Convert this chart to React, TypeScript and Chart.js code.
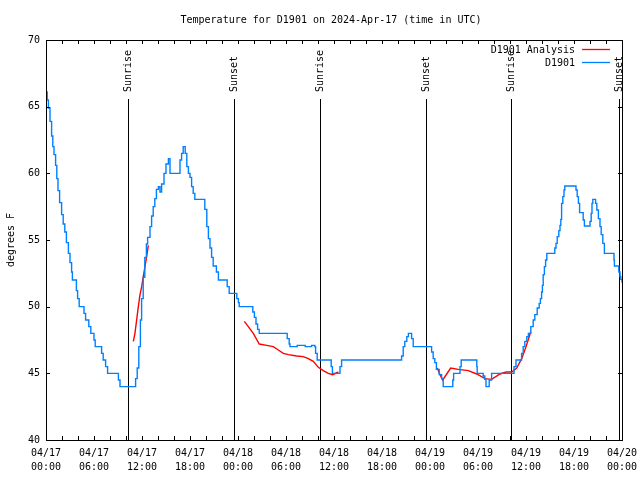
import React, { useEffect, useRef } from 'react';
import { Chart, registerables } from 'chart.js';

Chart.register(...registerables);

const TITLE = 'Temperature for D1901 on 2024-Apr-17 (time in UTC)';
const Y_LABEL = 'degrees F';
const OBS_LABEL = 'D1901';
const ANA_LABEL = 'D1901 Analysis';

const X_TICK_HOURS = [0, 6, 12, 18, 24, 30, 36, 42, 48, 54, 60, 66, 72];
const X_TICK_DATES = ['04/17', '04/17', '04/17', '04/17', '04/18', '04/18', '04/18', '04/18', '04/19', '04/19', '04/19', '04/19', '04/20'];
const X_TICK_TIMES = ['00:00', '06:00', '12:00', '18:00', '00:00', '06:00', '12:00', '18:00', '00:00', '06:00', '12:00', '18:00', '00:00'];
const X_MINOR_STEP = 2;
const Y_TICKS = [40, 45, 50, 55, 60, 65, 70];

const EVENT_HOURS = [10.29, 23.54, 34.29, 47.54, 58.17, 71.62];
const EVENT_NAMES = ['Sunrise', 'Sunset', 'Sunrise', 'Sunset', 'Sunrise', 'Sunset'];

// Observations (hours since 04/17 00:00 UTC, degrees F); each value holds until the next point
const OBS_HOURS = [
  0.0, 0.15, 0.3, 0.5, 0.7, 0.85, 1.0, 1.2, 1.35, 1.5, 1.7, 1.95, 2.15, 2.35, 2.55, 2.8, 3.0, 3.2, 3.3, 3.8,
  3.95, 4.15, 4.75, 4.95, 5.35, 5.6, 6.0, 6.15, 6.95, 7.15, 7.45, 7.7, 9.05, 9.25,
  11.2, 11.4, 11.6, 11.8, 11.95, 12.15, 12.35, 12.55, 12.7, 13.0, 13.2, 13.4, 13.6, 13.8, 14.05, 14.25, 14.45,
  14.75, 15.0, 15.3, 15.5, 16.75, 16.95, 17.15, 17.4, 17.6, 17.8, 18.0, 18.2, 18.4, 18.6, 19.85, 20.1, 20.3,
  20.5, 20.7, 20.9, 21.3, 21.55, 22.65, 22.9, 23.85, 24.05, 24.15, 25.85, 26.05, 26.25, 26.45, 26.65, 30.15,
  30.4, 30.5, 31.4, 32.4, 33.2, 33.6, 33.7, 33.9, 35.65, 35.8, 36.75, 36.95, 44.45, 44.65, 44.85, 45.1, 45.3,
  45.7, 45.9, 48.2, 48.4, 48.6, 48.8, 49.15, 49.45, 49.65, 50.85, 50.95, 51.75, 51.9, 53.85, 53.9, 54.65,
  54.85, 55.0, 55.4, 55.7, 58.5, 58.75, 59.45, 59.65, 59.85, 60.1, 60.3, 60.6, 60.9, 61.1, 61.4, 61.65, 61.8,
  61.95, 62.05, 62.15, 62.3, 62.45, 62.6, 63.6, 63.75, 63.9, 64.1, 64.25, 64.35, 64.45, 64.6, 64.75, 64.85,
  66.25, 66.4, 66.55, 66.7, 67.15, 67.3, 68.0, 68.15, 68.25, 68.35, 68.7, 68.85, 69.05, 69.25, 69.4, 69.6,
  69.8, 71.0, 71.05, 71.6, 71.75, 71.85, 72.0,
];
const OBS_TEMPS = [
  66.1, 65.5, 64.9, 63.9, 62.8, 62.0, 61.4, 60.6, 59.6, 58.7, 57.8, 56.9, 56.2, 55.6, 54.8, 54.0, 53.3, 52.6, 52.0, 51.2,
  50.6, 50.0, 49.5, 49.0, 48.5, 48.0, 47.5, 47.0, 46.5, 46.0, 45.5, 45.0, 44.5, 44.0,
  44.6, 45.4, 47.0, 49.0, 50.6, 52.2, 53.7, 54.7, 55.2, 56.0, 56.8, 57.5, 58.1, 58.8, 59.0, 58.6, 59.2,
  60.0, 60.7, 61.1, 60.0, 61.0, 61.5, 62.0, 61.5, 60.5, 60.0, 59.7, 59.0, 58.5, 58.05, 57.3, 56.0, 55.1,
  54.4, 53.7, 53.05, 52.6, 52.0, 51.5, 51.0, 50.6, 50.3, 50.0, 49.6, 49.2, 48.7, 48.3, 48.0, 47.6,
  47.2, 47.0, 47.1, 47.0, 47.1, 47.0, 46.5, 46.0, 45.5, 45.0, 45.5, 46.0, 46.3, 47.0, 47.4, 47.75, 48.0,
  47.6, 47.0, 46.6, 46.1, 45.8, 45.3, 44.9, 44.6, 44.0, 44.5, 45.0, 45.5, 46.0, 45.5, 45.0, 44.8,
  44.55, 44.0, 44.5, 45.0, 45.5, 46.0, 46.5, 47.0, 47.4, 47.75, 48.0, 48.5, 49.0, 49.4, 49.9, 50.25, 50.6,
  51.1, 51.6, 52.4, 53.0, 53.5, 54.0, 54.4, 54.75, 55.25, 55.7, 56.1, 56.55, 57.75, 58.25, 58.75, 59.05,
  58.75, 58.25, 57.75, 57.05, 56.5, 56.05, 56.4, 57.0, 57.75, 58.05, 57.75, 57.25, 56.6, 56.0, 55.4, 54.75,
  54.0, 53.5, 53.05, 52.6, 52.25, 52.05, 51.8,
];

// Analysis segments
const ANA1_HOURS = [10.92, 11.12, 11.33, 11.54, 11.75, 11.96, 12.16, 12.37, 12.58, 12.79];
const ANA1_TEMPS = [47.4, 48.0, 49.0, 50.0, 50.9, 51.5, 52.25, 53.0, 53.75, 54.6];
const ANA2_HOURS = [24.79, 25.29, 25.91, 26.66, 27.59, 28.41, 29.04, 29.66, 30.29, 31.34, 32.16, 32.79, 33.41, 34.04, 34.66, 35.29, 35.84, 36.54];
const ANA2_TEMPS = [48.9, 48.5, 48.0, 47.2, 47.1, 47.0, 46.75, 46.5, 46.4, 46.3, 46.25, 46.1, 45.9, 45.45, 45.2, 45.0, 44.9, 45.1];
const ANA3_HOURS = [48.91, 49.25, 49.59, 50.09, 50.59, 51.54, 52.79, 53.84, 54.88, 55.71, 56.75, 57.5, 58.21, 58.84, 59.46, 60.0, 60.59];
const ANA3_TEMPS = [45.4, 44.9, 44.5, 44.95, 45.4, 45.3, 45.2, 44.95, 44.6, 44.55, 44.95, 45.1, 45.1, 45.4, 46.1, 47.0, 48.1];

const FONT = "10px 'DejaVu Sans Mono'";
const BLUE = '#0080ff';
const RED = '#ff0000';

function pts(hours: number[], temps: number[]) {
  return hours.map((h, i) => ({ x: h, y: temps[i] }));
}

const gnuplotPlugin = {
  id: 'gnuplotDecor',
  beforeDatasetsDraw(chart: any) {
    const { ctx, chartArea, scales } = chart;
    ctx.save();
    ctx.strokeStyle = '#000';
    ctx.lineWidth = 1;
    ctx.fillStyle = '#000';
    ctx.font = FONT;
    EVENT_HOURS.forEach((h, i) => {
      const x = Math.round(scales.x.getPixelForValue(h)) + 0.5;
      ctx.beginPath();
      ctx.moveTo(x, 99);
      ctx.lineTo(x, chartArea.bottom);
      ctx.stroke();
      ctx.save();
      ctx.translate(x, 92);
      ctx.rotate(-Math.PI / 2);
      ctx.textAlign = 'left';
      ctx.textBaseline = 'middle';
      ctx.fillText(EVENT_NAMES[i], 0, 0);
      ctx.restore();
    });
    ctx.restore();
  },
  afterDraw(chart: any) {
    const { ctx, chartArea, scales } = chart;
    const { left, right, top, bottom } = chartArea;
    ctx.save();
    ctx.strokeStyle = '#000';
    ctx.fillStyle = '#000';
    ctx.lineWidth = 1;
    ctx.strokeRect(left + 0.5, top + 0.5, right - left, bottom - top);
    ctx.beginPath();
    for (let h = 0; h <= 72; h += X_MINOR_STEP) {
      const x = Math.round(scales.x.getPixelForValue(h)) + 0.5;
      ctx.moveTo(x, bottom);
      ctx.lineTo(x, bottom - 4);
      ctx.moveTo(x, top);
      ctx.lineTo(x, top + 4);
    }
    Y_TICKS.forEach((v) => {
      const y = Math.round(scales.y.getPixelForValue(v)) + 0.5;
      ctx.moveTo(left, y);
      ctx.lineTo(left + 4, y);
      ctx.moveTo(right, y);
      ctx.lineTo(right - 4, y);
    });
    ctx.stroke();

    ctx.font = FONT;
    ctx.textBaseline = 'middle';
    ctx.textAlign = 'right';
    Y_TICKS.forEach((v) => {
      const y = scales.y.getPixelForValue(v);
      ctx.fillText(String(v), 40, y);
    });
    ctx.textAlign = 'center';
    X_TICK_HOURS.forEach((h, i) => {
      const x = scales.x.getPixelForValue(h);
      ctx.fillText(X_TICK_DATES[i], x, 453);
      ctx.fillText(X_TICK_TIMES[i], x, 467);
    });
    ctx.fillText(TITLE, 331, 20);
    ctx.save();
    ctx.translate(11, 240);
    ctx.rotate(-Math.PI / 2);
    ctx.textAlign = 'center';
    ctx.fillText(Y_LABEL, 0, 0);
    ctx.restore();
    ctx.textAlign = 'right';
    ctx.fillText(ANA_LABEL, 575, 50);
    ctx.fillText(OBS_LABEL, 575, 63);
    ctx.lineWidth = 1.3;
    ctx.strokeStyle = RED;
    ctx.beginPath();
    ctx.moveTo(582, 49.5);
    ctx.lineTo(610, 49.5);
    ctx.stroke();
    ctx.strokeStyle = BLUE;
    ctx.beginPath();
    ctx.moveTo(582, 62.5);
    ctx.lineTo(610, 62.5);
    ctx.stroke();
    ctx.restore();
  },
};

export default function App() {
  const ref = useRef<HTMLCanvasElement | null>(null);
  useEffect(() => {
    document.body.style.margin = '0';
    if (!ref.current) return;
    const anaData: any[] = [
      ...pts(ANA1_HOURS, ANA1_TEMPS),
      { x: 18, y: null },
      ...pts(ANA2_HOURS, ANA2_TEMPS),
      { x: 42, y: null },
      ...pts(ANA3_HOURS, ANA3_TEMPS),
    ];
    const chart = new Chart(ref.current, {
      type: 'line',
      data: {
        datasets: [
          {
            label: OBS_LABEL,
            data: pts(OBS_HOURS, OBS_TEMPS),
            borderColor: BLUE,
            borderWidth: 1.4,
            pointRadius: 0,
            stepped: 'before',
            fill: false,
          },
          {
            label: ANA_LABEL,
            data: anaData,
            borderColor: RED,
            borderWidth: 1.4,
            pointRadius: 0,
            spanGaps: false,
            fill: false,
            tension: 0,
          },
        ],
      },
      options: {
        responsive: false,
        animation: false,
        layout: { padding: { left: 46, top: 40, right: 18, bottom: 40 } },
        scales: {
          x: { type: 'linear', min: 0, max: 72, display: false },
          y: { type: 'linear', min: 40, max: 70, display: false },
        },
        plugins: { legend: { display: false }, tooltip: { enabled: false } },
      },
      plugins: [gnuplotPlugin],
    } as any);
    return () => chart.destroy();
  }, []);
  return (
    <div style={{ width: 640, height: 480, background: '#fff' }}>
      <canvas ref={ref} width={640} height={480} />
    </div>
  );
}
